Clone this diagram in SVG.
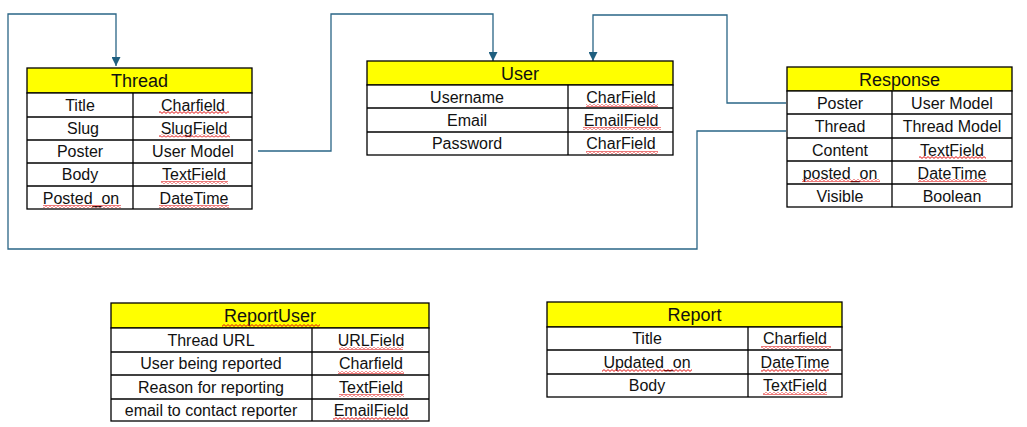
<svg xmlns="http://www.w3.org/2000/svg" width="1027" height="427" viewBox="0 0 1027 427">
<style>
.bg{fill:#ffffff}
.hdr{fill:#ffff00;stroke:#000;stroke-width:1.3}
.cell{fill:#ffffff;stroke:#000;stroke-width:1.3}
.ln{stroke:#000;stroke-width:1.3}
.h{font-family:"Liberation Sans",Arial,sans-serif;font-size:18px;fill:#111;text-anchor:middle}
.t{font-family:"Liberation Sans",Arial,sans-serif;font-size:16px;fill:#111;text-anchor:middle}
.sq{fill:url(#squig)}
.conn{fill:none;stroke:#2A6586;stroke-width:1.3;marker-end:url(#arr)}
</style>
<defs>
<pattern id="squig" patternUnits="userSpaceOnUse" width="4" height="3">
<path d="M0 0.6 L2 2.4 L4 0.6" fill="none" stroke="#e01010" stroke-width="1"/>
</pattern>
<marker id="arr" viewBox="0 0 10 10" refX="10" refY="5" markerWidth="9" markerHeight="9" markerUnits="userSpaceOnUse" orient="auto">
<path d="M0 0 L10 5 L0 10 z" fill="#1F5F80"/>
</marker>
</defs>
<rect class="bg" x="0" y="0" width="1027" height="427"/>

<g id="connectors">
<path class="conn" d="M786 131 H697 V249 H8 V14 H116 V66"/>
<path class="conn" d="M258 151 H331 V14 H493 V61"/>
<path class="conn" d="M786 103 H727 V15 H593 V61"/>
</g>

<g id="Thread">
<rect class="hdr" x="27" y="68" width="225" height="25"/>
<rect class="cell" x="27" y="93" width="225" height="116"/>
<line class="ln" x1="133" y1="93" x2="133" y2="209"/>
<line class="ln" x1="27" y1="117" x2="252" y2="117"/>
<line class="ln" x1="27" y1="140" x2="252" y2="140"/>
<line class="ln" x1="27" y1="163" x2="252" y2="163"/>
<line class="ln" x1="27" y1="186" x2="252" y2="186"/>
<text class="h" x="139.5" y="87">Thread</text>
<text class="t" x="80" y="110.5">Title</text><text class="t" x="193" y="110.5">Charfield</text>
<text class="t" x="83" y="134">Slug</text><text class="t" x="194" y="134">SlugField</text>
<text class="t" x="80" y="157">Poster</text><text class="t" x="193" y="157">User Model</text>
<text class="t" x="80" y="180">Body</text><text class="t" x="194" y="180">TextField</text>
<text class="t" x="81" y="203.5">Posted_on</text><text class="t" x="194" y="203.5">DateTime</text>
<rect class="sq" x="159" y="111" width="70" height="3"/>
<rect class="sq" x="159" y="134.5" width="71" height="3"/>
<rect class="sq" x="161" y="181" width="67" height="3"/>
<rect class="sq" x="43" y="205" width="78" height="3"/>
<rect class="sq" x="159" y="205" width="70" height="3"/>
</g>

<g id="User">
<rect class="hdr" x="367" y="61" width="306" height="24"/>
<rect class="cell" x="367" y="85" width="306" height="70"/>
<line class="ln" x1="568" y1="85" x2="568" y2="155"/>
<line class="ln" x1="367" y1="108" x2="673" y2="108"/>
<line class="ln" x1="367" y1="132" x2="673" y2="132"/>
<text class="h" x="520" y="79.5">User</text>
<text class="t" x="467" y="102.5">Username</text><text class="t" x="621" y="102.5">CharField</text>
<text class="t" x="467" y="125.5">Email</text><text class="t" x="621" y="125.5">EmailField</text>
<text class="t" x="467" y="149">Password</text><text class="t" x="621" y="149">CharField</text>
<rect class="sq" x="586" y="104" width="72" height="3"/>
<rect class="sq" x="583" y="127" width="78" height="3"/>
<rect class="sq" x="586" y="151" width="72" height="3"/>
</g>

<g id="Response">
<rect class="hdr" x="787" y="67" width="225" height="24"/>
<rect class="cell" x="787" y="91" width="225" height="116"/>
<line class="ln" x1="892" y1="91" x2="892" y2="207"/>
<line class="ln" x1="787" y1="114" x2="1012" y2="114"/>
<line class="ln" x1="787" y1="138" x2="1012" y2="138"/>
<line class="ln" x1="787" y1="161" x2="1012" y2="161"/>
<line class="ln" x1="787" y1="184" x2="1012" y2="184"/>
<text class="h" x="899.5" y="85.5">Response</text>
<text class="t" x="840" y="108.5">Poster</text><text class="t" x="952" y="108.5">User Model</text>
<text class="t" x="840" y="132">Thread</text><text class="t" x="952" y="132">Thread Model</text>
<text class="t" x="840" y="155.5">Content</text><text class="t" x="952" y="155.5">TextField</text>
<text class="t" x="840" y="178.5">posted_on</text><text class="t" x="952" y="178.5">DateTime</text>
<text class="t" x="840" y="201.5">Visible</text><text class="t" x="952" y="201.5">Boolean</text>
<rect class="sq" x="919" y="156" width="67" height="3"/>
<rect class="sq" x="802" y="179" width="78" height="3"/>
<rect class="sq" x="918" y="179" width="69" height="3"/>
</g>

<g id="ReportUser">
<rect class="hdr" x="111" y="303" width="318" height="25"/>
<rect class="cell" x="111" y="328" width="318" height="93"/>
<line class="ln" x1="312" y1="328" x2="312" y2="421"/>
<line class="ln" x1="111" y1="352" x2="429" y2="352"/>
<line class="ln" x1="111" y1="375" x2="429" y2="375"/>
<line class="ln" x1="111" y1="399" x2="429" y2="399"/>
<text class="h" x="270" y="322">ReportUser</text>
<text class="t" x="211" y="345.5">Thread URL</text><text class="t" x="371" y="345.5">URLField</text>
<text class="t" x="211" y="369">User being reported</text><text class="t" x="371" y="369">Charfield</text>
<text class="t" x="211" y="392.5">Reason for reporting</text><text class="t" x="371" y="392.5">TextField</text>
<text class="t" x="211" y="415.5">email to contact reporter</text><text class="t" x="371" y="415.5">EmailField</text>
<rect class="sq" x="222" y="324" width="98" height="3"/>
<rect class="sq" x="339" y="347" width="64" height="3"/>
<rect class="sq" x="338" y="371" width="66" height="3"/>
<rect class="sq" x="339" y="394" width="65" height="3"/>
<rect class="sq" x="333" y="417" width="76" height="3"/>
</g>

<g id="Report">
<rect class="hdr" x="547" y="302" width="295" height="25"/>
<rect class="cell" x="547" y="327" width="295" height="70"/>
<line class="ln" x1="748" y1="327" x2="748" y2="397"/>
<line class="ln" x1="547" y1="350" x2="842" y2="350"/>
<line class="ln" x1="547" y1="374" x2="842" y2="374"/>
<text class="h" x="694.5" y="321">Report</text>
<text class="t" x="647" y="344">Title</text><text class="t" x="795" y="344">Charfield</text>
<text class="t" x="647" y="367.5">Updated_on</text><text class="t" x="795" y="367.5">DateTime</text>
<text class="t" x="647" y="391">Body</text><text class="t" x="795" y="391">TextField</text>
<rect class="sq" x="761" y="346" width="70" height="3"/>
<rect class="sq" x="602" y="369" width="90" height="3"/>
<rect class="sq" x="761" y="369" width="68" height="3"/>
<rect class="sq" x="763" y="392" width="64" height="3"/>
</g>
</svg>
